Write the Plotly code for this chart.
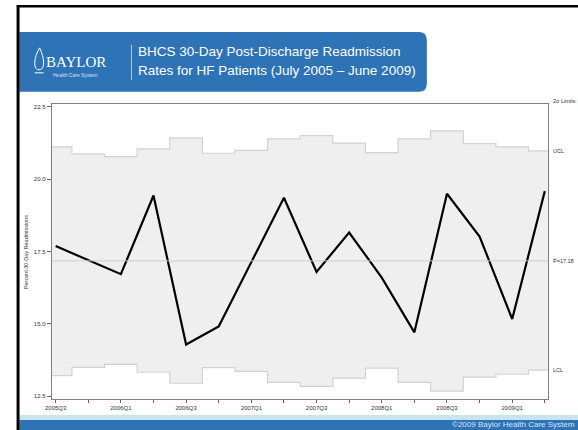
import plotly.graph_objects as go

# quarters July 2005 - June 2009
quarters = ["2005Q3", "2005Q4", "2006Q1", "2006Q2", "2006Q3", "2006Q4",
            "2007Q1", "2007Q2", "2007Q3", "2007Q4", "2008Q1", "2008Q2",
            "2008Q3", "2008Q4", "2009Q1", "2009Q2"]
rate = [17.69, 17.20, 16.72, 19.44, 14.29, 14.91, 17.16, 19.36,
        16.80, 18.16, 16.60, 14.71, 19.50, 18.02, 15.17, 19.59]
ucl = [21.12, 20.88, 20.78, 21.05, 21.43, 20.90, 21.00, 21.40,
       21.51, 21.25, 20.92, 21.40, 21.67, 21.23, 21.12, 20.98]
lcl = [13.21, 13.50, 13.60, 13.33, 12.95, 13.49, 13.36, 12.98,
       12.84, 13.13, 13.47, 12.98, 12.68, 13.16, 13.26, 13.40]
p_bar = 17.18
y_ticks = [12.5, 15.0, 17.5, 20.0, 22.5]

W, H = 578, 430


def fx(px):
    return px / W


def fy(py):
    return 1 - py / H


idx = list(range(len(quarters)))
# step edges half a quarter either side of each point
edges = [i - 0.5 for i in idx] + [idx[-1] + 0.5]
ucl_steps = ucl + [ucl[-1]]
lcl_steps = lcl + [lcl[-1]]

BLUE = "#2E73B5"
LIGHT = "#C7E4EF"
FONT = "Liberation Sans, Arial, sans-serif"

fig = go.Figure()
fig.add_trace(go.Scatter(
    x=edges, y=lcl_steps, mode="lines", line_shape="hv",
    line=dict(color="#D2D2D2", width=1.2), hoverinfo="skip"
))
fig.add_trace(go.Scatter(
    x=edges, y=ucl_steps, mode="lines", line_shape="hv",
    line=dict(color="#D2D2D2", width=1.2), fill="tonexty",
    fillcolor="#EFEFEF", hoverinfo="skip"
))
fig.add_hline(y=p_bar, line=dict(color="#CFCFCF", width=1))
fig.add_trace(go.Scatter(
    x=idx, y=rate, mode="lines",
    line=dict(color="black", width=2.2), name="Rate"
))

fig.update_xaxes(
    domain=[fx(45.3), fx(547.7)], range=[-0.12, 15.1],
    tickvals=idx,
    ticktext=[q if i % 2 == 0 else "" for i, q in enumerate(quarters)],
    ticks="outside", ticklen=3, tickcolor="#666", tickwidth=1,
    showline=True, linecolor="#808080", linewidth=1, mirror=True,
    showgrid=False, zeroline=False,
    tickfont=dict(size=6, color="#333", family=FONT), tickangle=0,
)
fig.update_yaxes(
    domain=[fy(399.5), fy(104.3)], range=[12.42, 22.6],
    tickvals=y_ticks, ticktext=["%.1f" % v for v in y_ticks],
    ticks="outside", ticklen=4, tickcolor="#666", tickwidth=1,
    showline=True, linecolor="#808080", linewidth=1, mirror=True,
    showgrid=False, zeroline=False,
    tickfont=dict(size=6, color="#333", family=FONT),
)

shapes = [
    # light blue top band
    dict(type="rect", xref="paper", yref="paper", x0=fx(12.5), x1=fx(578),
         y0=fy(62), y1=fy(7.5), fillcolor=LIGHT, line_width=0),
    # dark header box with rounded right corners
    dict(type="path", xref="paper", yref="paper",
         path="M %f,%f L %f,%f Q %f,%f %f,%f L %f,%f Q %f,%f %f,%f L %f,%f Z" % (
             fx(12.5), fy(32), fx(417), fy(32), fx(425), fy(32), fx(425), fy(40),
             fx(425), fy(84), fx(425), fy(92), fx(417), fy(92), fx(12.5), fy(92)),
         fillcolor=BLUE, line_width=0),
    # separator line in header
    dict(type="line", xref="paper", yref="paper", x0=fx(126), x1=fx(126),
         y0=fy(45), y1=fy(80), line=dict(color="#A9C9E8", width=1)),
    # logo drop
    dict(type="path", xref="paper", yref="paper",
         path="M %f,%f C %f,%f %f,%f %f,%f C %f,%f %f,%f %f,%f" % (
             fx(33), fy(48),
             fx(27), fy(58), fx(26), fy(70), fx(32.5), fy(70),
             fx(39), fy(70), fx(38), fy(58), fx(33), fy(48)),
         line=dict(color="white", width=1)),
    dict(type="line", xref="paper", yref="paper", x0=fx(28), x1=fx(37),
         y0=fy(73), y1=fy(73), line=dict(color="white", width=1)),
    # footer bands
    dict(type="rect", xref="paper", yref="paper", x0=fx(12.5), x1=fx(578),
         y0=fy(421), y1=fy(416), fillcolor=LIGHT, line_width=0),
    dict(type="rect", xref="paper", yref="paper", x0=fx(12.5), x1=fx(578),
         y0=fy(431), y1=fy(421), fillcolor=BLUE, line_width=0),
    # black frame of the slide
    dict(type="line", xref="paper", yref="paper", x0=fx(11.2), x1=fx(11.2),
         y0=fy(432), y1=fy(5), line=dict(color="black", width=3)),
    dict(type="line", xref="paper", yref="paper", x0=fx(10), x1=fx(580),
         y0=fy(6.3), y1=fy(6.3), line=dict(color="black", width=2.5)),
]

annotations = [
    dict(text="BAYLOR", x=fx(37), y=fy(62), xanchor="left", yanchor="middle",
         font=dict(size=15, color="white", family="Liberation Serif, Times New Roman, serif")),
    dict(text="Health Care System", x=fx(45), y=fy(75.5), xanchor="left", yanchor="middle",
         font=dict(size=5, color="#D8E6F4", family=FONT)),
    dict(text="BHCS 30-Day Post-Discharge Readmission", x=fx(131), y=fy(52),
         xanchor="left", yanchor="middle", font=dict(size=13.5, color="white", family=FONT)),
    dict(text="Rates for HF Patients (July 2005 \u2013 June 2009)", x=fx(131), y=fy(71),
         xanchor="left", yanchor="middle", font=dict(size=13.5, color="white", family=FONT)),
    dict(text="2\u03c3 Limits:", x=fx(551), y=fy(101), xanchor="left", yanchor="middle",
         font=dict(size=5.5, color="#333", family=FONT)),
    dict(text="UCL", x=fx(551), y=ucl[-1], yref="y", xanchor="left", yanchor="middle",
         font=dict(size=5.5, color="#333", family=FONT)),
    dict(text="P\u0304=%.2f" % p_bar, x=fx(551), y=p_bar, yref="y", xanchor="left",
         yanchor="middle", font=dict(size=5.5, color="#333", family=FONT)),
    dict(text="LCL", x=fx(551), y=lcl[-1], yref="y", xanchor="left", yanchor="middle",
         font=dict(size=5.5, color="#333", family=FONT)),
    dict(text="Percent 30-Day Readmissions", x=fx(20), y=fy(252), textangle=-90,
         xanchor="center", yanchor="middle",
         font=dict(size=5.5, color="#333", family=FONT)),
    dict(text="\u00a92009 Baylor Health Care System", x=fx(577), y=fy(425.3),
         xanchor="right", yanchor="middle",
         font=dict(size=8, color="#D6E6F4", family=FONT)),
]
for a in annotations:
    a.setdefault("xref", "paper")
    a.setdefault("yref", "paper")
    a["showarrow"] = False

fig.update_layout(
    width=W, height=H,
    margin=dict(l=0, r=0, t=0, b=0),
    paper_bgcolor="white", plot_bgcolor="white",
    showlegend=False,
    shapes=shapes,
    annotations=annotations,
)

# drop the page's default body margin so the figure sits at the window corner
fig.write_html("out.html", config={"displayModeBar": False},
               post_script="document.body.style.margin='0';")
